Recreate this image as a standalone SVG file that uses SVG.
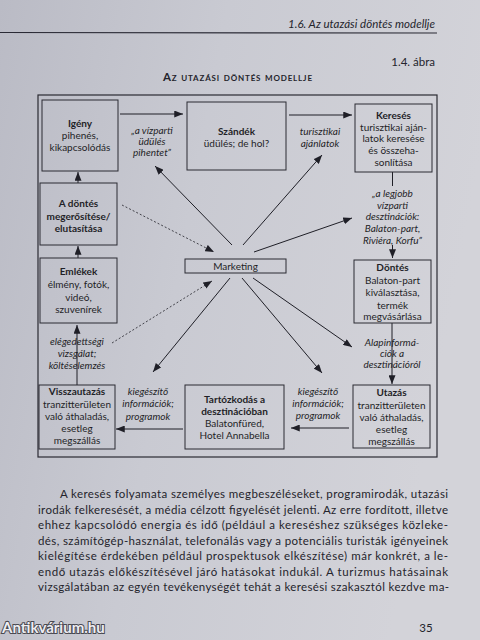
<svg xmlns="http://www.w3.org/2000/svg" width="480" height="640" viewBox="0 0 480 640">
<defs>
<linearGradient id="bg" x1="0" y1="0" x2="1" y2="0.25">
<stop offset="0" stop-color="#babbc5"/>
<stop offset="0.45" stop-color="#c9cad2"/>
<stop offset="1" stop-color="#d3d3d9"/>
</linearGradient>
<marker id="ah" viewBox="0 0 10 8" refX="10" refY="4" markerWidth="9" markerHeight="7" orient="auto" markerUnits="userSpaceOnUse">
<path d="M0,0 L10,4 L0,8 Z" fill="#1f1f27"/>
</marker>
<style>
.t{font-family:Lato,"Open Sans","DejaVu Sans",sans-serif;fill:#1f1f27;font-size:10px;text-anchor:middle}
.b{font-weight:bold}
.i{font-style:italic}
.box{fill:none;stroke:#2a2a32;stroke-width:1}
.ln{stroke:#1f1f27;stroke-width:1;fill:none}
.ar{marker-end:url(#ah)}
.dt{stroke-dasharray:2 2;stroke-width:0.8}
.p{font-family:Lato,"Open Sans","DejaVu Sans",sans-serif;font-size:11.5px;fill:#24242c}
</style>
</defs>
<rect x="0" y="0" width="480" height="640" fill="url(#bg)"/>

<!-- page header -->
<g id="header">
<text class="p i" x="435" y="28" text-anchor="end" font-size="12" textLength="147" lengthAdjust="spacing">1.6.  Az utazási döntés modellje</text>
<path d="M0,32.5 L437,33" stroke="#2a2a35" stroke-width="1.2"/>
<text class="p" x="435" y="66" text-anchor="end" font-size="12.5">1.4. ábra</text>
<text class="p b" x="237.5" y="81" text-anchor="middle" font-size="11" style="font-variant:small-caps" textLength="149" lengthAdjust="spacing">Az utazási döntés modellje</text>
</g>

<!-- outer frame -->
<rect id="frame" x="38" y="95" width="399" height="362" fill="none" stroke="#2a2a32" stroke-width="1.2"/>

<g id="connectors">
<path class="ln ar" d="M120,114 H183"/>
<path class="ln ar" d="M289,115 H352"/>
<path class="ln ar" d="M349,428 H291"/>
<path class="ln ar" d="M183,429 H116"/>
<path class="ln ar" d="M78,183 V172"/>
<path class="ln ar" d="M78,258 V246"/>
<path class="ln ar" d="M77,385 V325"/>
<path class="ln" d="M392.5,172 V186"/>
<path class="ln ar" d="M392.5,245 V258"/>
<path class="ln ar" d="M392,323 V384"/>
<path class="ln ar" d="M232,245 L155,166"/>
<path class="ln ar" d="M243,245 L322,155"/>
<path class="ln ar" d="M254,252 L352,218"/>
<path class="ln ar" d="M253,278 L352,347"/>
<path class="ln ar" d="M242,278 L322,373"/>
<path class="ln ar" d="M230,278 L153,372"/>
<path class="ln ar dt" d="M122,205 L214,252"/>
<path class="ln ar dt" d="M112,343 L212,281"/>
</g>

<g id="labels">
<text class="t i" x="152" y="134">„a vízparti</text>
<text class="t i" x="152" y="145">üdülés</text>
<text class="t i" x="152" y="156">pihentet”</text>
<text class="t i" x="320" y="135">turisztikai</text>
<text class="t i" x="320" y="147">ajánlatok</text>
<text class="t i" x="392.5" y="197">„a legjobb</text>
<text class="t i" x="392.5" y="208.5">vízparti</text>
<text class="t i" x="392.5" y="220">desztinációk:</text>
<text class="t i" x="392.5" y="232">Balaton-part,</text>
<text class="t i" x="392.5" y="243.5">Riviéra, Korfu”</text>
<text class="t i" x="392" y="346">Alapinformá-</text>
<text class="t i" x="392" y="357">ciók a</text>
<text class="t i" x="392" y="368">desztinációról</text>
<text class="t i" x="318" y="394.5">kiegészítő</text>
<text class="t i" x="318" y="406.5">információk;</text>
<text class="t i" x="318" y="419">programok</text>
<text class="t i" x="148" y="395">kiegészítő</text>
<text class="t i" x="148" y="407">információk;</text>
<text class="t i" x="148" y="420">programok</text>
<text class="t i" x="77" y="345">elégedettségi</text>
<text class="t i" x="77" y="357">vizsgálat;</text>
<text class="t i" x="77" y="368.5">költéselemzés</text>
</g>

<g id="igeny">
<rect class="box" x="42" y="100" width="76" height="71"/>
<text class="t b" x="80" y="127">Igény</text>
<text class="t" x="80" y="139">pihenés,</text>
<text class="t" x="80" y="151">kikapcsolódás</text>
</g>
<g id="szandek">
<rect class="box" x="187" y="102" width="99" height="68"/>
<text class="t b" x="236.5" y="135">Szándék</text>
<text class="t" x="236.5" y="147">üdülés; de hol?</text>
</g>
<g id="kereses">
<rect class="box" x="355" y="104" width="77" height="68"/>
<text class="t b" x="393.5" y="119">Keresés</text>
<text class="t" x="393.5" y="130.5">turisztikai aján-</text>
<text class="t" x="393.5" y="142">latok keresése</text>
<text class="t" x="393.5" y="154">és összeha-</text>
<text class="t" x="393.5" y="166">sonlítása</text>
</g>
<g id="dontes-megerosites">
<rect class="box" x="40" y="183" width="77" height="62"/>
<text class="t b" x="78.5" y="207">A döntés</text>
<text class="t b" x="78.5" y="219.5">megerősítése/</text>
<text class="t b" x="78.5" y="231.5">elutasítása</text>
</g>
<g id="emlekek">
<rect class="box" x="40" y="258" width="77" height="65"/>
<text class="t b" x="78.5" y="275">Emlékek</text>
<text class="t" x="78.5" y="288">élmény, fotók,</text>
<text class="t" x="78.5" y="300.5">videó,</text>
<text class="t" x="78.5" y="313">szuvenírek</text>
</g>
<g id="marketing">
<rect class="box" x="185" y="259" width="101" height="14"/>
<text class="t" x="235.5" y="270">Marketing</text>
</g>
<g id="dontes">
<rect class="box" x="354" y="260" width="77" height="63"/>
<text class="t b" x="392.5" y="271">Döntés</text>
<text class="t" x="392.5" y="283.5">Balaton-part</text>
<text class="t" x="392.5" y="296">kiválasztása,</text>
<text class="t" x="392.5" y="308.5">termék</text>
<text class="t" x="392.5" y="320">megvásárlása</text>
</g>
<g id="utazas">
<rect class="box" x="353" y="385" width="77" height="63"/>
<text class="t b" x="391.5" y="396">Utazás</text>
<text class="t" x="391.5" y="408.5">tranzitterületen</text>
<text class="t" x="391.5" y="421">való áthaladás,</text>
<text class="t" x="391.5" y="433">esetleg</text>
<text class="t" x="391.5" y="444.5">megszállás</text>
</g>
<g id="tartozkodas">
<rect class="box" x="185" y="385" width="99" height="64"/>
<text class="t b" x="234.5" y="402.5">Tartózkodás a</text>
<text class="t b" x="234.5" y="414.5">desztinációban</text>
<text class="t" x="234.5" y="426.5">Balatonfüred,</text>
<text class="t" x="234.5" y="438.5">Hotel Annabella</text>
</g>
<g id="visszautazas">
<rect class="box" x="39" y="385" width="76" height="64"/>
<text class="t b" x="77" y="395">Visszautazás</text>
<text class="t" x="77" y="407.5">tranzitterületen</text>
<text class="t" x="77" y="420">való áthaladás,</text>
<text class="t" x="77" y="432">esetleg</text>
<text class="t" x="77" y="443.5">megszállás</text>
</g>

<g id="paragraph">
<text class="p" x="60" y="498" textLength="388" lengthAdjust="spacing">A keresés folyamata személyes megbeszéléseket, programirodák, utazási</text>
<text class="p" x="38" y="513.5" textLength="410" lengthAdjust="spacing">irodák felkeresését, a média célzott figyelését jelenti. Az erre fordított, illetve</text>
<text class="p" x="38" y="529" textLength="410" lengthAdjust="spacing">ehhez kapcsolódó energia és idő (például a kereséshez szükséges közleke-</text>
<text class="p" x="38" y="544.5" textLength="410" lengthAdjust="spacing">dés, számítógép-használat, telefonálás vagy a potenciális turisták igényeinek</text>
<text class="p" x="38" y="560" textLength="410" lengthAdjust="spacing">kielégítése érdekében például prospektusok elkészítése) már konkrét, a le-</text>
<text class="p" x="38" y="575.5" textLength="410" lengthAdjust="spacing">endő utazás előkészítésével járó hatásokat indukál. A turizmus hatásainak</text>
<text class="p" x="38" y="591" textLength="411" lengthAdjust="spacing">vizsgálatában az egyén tevékenységét tehát a keresési szakasztól kezdve ma-</text>
</g>

<g id="footer">
<text class="p" x="426" y="632" text-anchor="middle" font-size="11">35</text>
<text x="2" y="633" font-family="Lato,'Open Sans',sans-serif" font-weight="bold" font-size="15" fill="#eeeef2" stroke="#4a4a52" stroke-width="2" paint-order="stroke">Antikvárium.hu</text>
</g>
</svg>
